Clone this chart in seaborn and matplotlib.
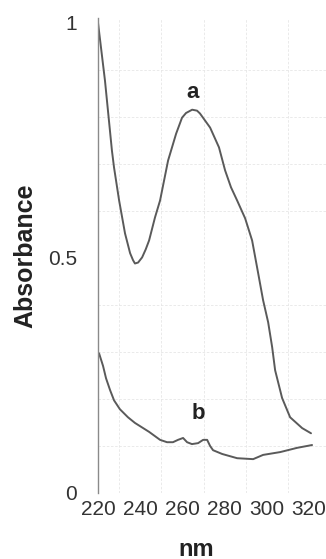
import matplotlib
matplotlib.use("Agg")
import matplotlib.pyplot as plt
import numpy as np
import pandas as pd
import seaborn as sns

# UV absorption spectra, wavelength (nm) vs absorbance
a_nm = [220.0, 223.3, 226.6, 227.6, 230.0, 232.8, 235.2, 236.6, 237.5, 239.0,
        240.9, 242.6, 244.2, 247.0, 249.4, 253.2, 257.0, 259.8, 261.7, 264.6,
        266.9, 268.3, 273.1, 277.3, 280.2, 283.0, 285.9, 289.7, 293.0, 295.8,
        298.2, 300.6, 302.5, 303.9, 307.2, 311.0, 316.7, 320.9]
a_abs = [1.000, 0.877, 0.728, 0.692, 0.622, 0.552, 0.510, 0.495, 0.488, 0.490,
         0.501, 0.518, 0.537, 0.586, 0.622, 0.707, 0.764, 0.798, 0.808, 0.815,
         0.813, 0.807, 0.777, 0.735, 0.686, 0.650, 0.622, 0.584, 0.537, 0.469,
         0.410, 0.363, 0.310, 0.261, 0.202, 0.161, 0.138, 0.127]

b_nm = [220.5, 222.4, 223.8, 225.7, 227.6, 230.4, 234.2, 237.5, 244.2, 249.4,
        252.7, 255.5, 257.9, 260.3, 262.2, 264.5, 267.4, 269.8, 271.7, 273.1,
        274.5, 278.8, 285.9, 293.5, 298.2, 306.3, 314.3, 321.4]
b_abs = [0.297, 0.270, 0.244, 0.219, 0.197, 0.178, 0.161, 0.149, 0.130, 0.113,
         0.108, 0.108, 0.113, 0.117, 0.108, 0.104, 0.106, 0.113, 0.113, 0.100,
         0.091, 0.083, 0.074, 0.072, 0.081, 0.087, 0.096, 0.102]

x_ticks = [220, 240, 260, 280, 300, 320]
y_ticks = [0, 0.5, 1]
y_tick_labels = ["0", "0.5", "1"]

df = pd.concat([
    pd.DataFrame({"nm": a_nm, "abs": a_abs, "curve": "a"}),
    pd.DataFrame({"nm": b_nm, "abs": b_abs, "curve": "b"}),
])

sns.set_style("white")
plt.rcParams["font.family"] = ["Liberation Sans", "DejaVu Sans"]

fig = plt.figure(figsize=(3.26, 5.59), dpi=100)
ax = fig.add_axes([98 / 326, 66 / 559, 228 / 326, 475 / 559])

line_color = "#5a5a5a"
sns.lineplot(data=df, x="nm", y="abs", hue="curve",
             palette=[line_color, line_color], estimator=None,
             legend=False, linewidth=1.4, ax=ax)

ax.set_xlim(220, 328)
ax.set_ylim(0, 1.01)

# faint graph-paper grid
ax.set_xticks(np.arange(220, 330, 10), minor=True)
ax.set_yticks(np.arange(0, 1.01, 0.1), minor=True)
ax.grid(which="minor", color="#e6e6e6", linewidth=0.6, linestyle=(0, (3, 2)))
ax.grid(which="major", visible=False)
ax.set_axisbelow(True)

ax.set_xticks(x_ticks)
ax.set_xticklabels([str(t) for t in x_ticks])
ax.set_yticks(y_ticks)
ax.set_yticklabels(y_tick_labels)
ax.tick_params(axis="both", which="both", length=0, labelsize=15,
               labelcolor="#333333")
ax.tick_params(axis="x", pad=5)
ax.tick_params(axis="y", pad=15)

for side in ["top", "right", "bottom"]:
    ax.spines[side].set_visible(False)
ax.spines["left"].set_color("#8a8a8a")
ax.spines["left"].set_linewidth(1.0)

ax.set_xlabel("")
ax.set_ylabel("Absorbance", fontsize=18, fontweight="bold", color="#222222")
ax.yaxis.set_label_coords(-0.265, 0.5)
ax.text(0.43, -0.118, "nm", transform=ax.transAxes, fontsize=17,
        fontweight="bold", color="#222222", ha="center", va="center")

ax.text(265.0, 0.851, "a", fontsize=16, fontweight="bold", color="#222222",
        ha="center", va="center")
ax.text(267.4, 0.168, "b", fontsize=16, fontweight="bold", color="#222222",
        ha="center", va="center")

fig.savefig("out.png", dpi=100)
